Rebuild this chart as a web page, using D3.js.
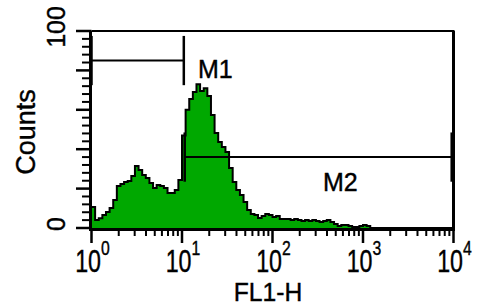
<!DOCTYPE html>
<html>
<head>
<meta charset="utf-8">
<script src="https://cdn.jsdelivr.net/npm/d3@7"></script>
<style>
  html, body { margin: 0; padding: 0; background: #fff; }
  text { font-family: "Liberation Sans", Arial, sans-serif; fill: #000; stroke: #000; stroke-width: 0.4; }
</style>
</head>
<body>
<div id="chart"></div>
<script>
// histogram: 100 bins, each 0.04 decade wide, starting at 10^0
const binWidthDecades = 0.04;
const counts = [
  10.7, 4, 5, 6.6, 8.1, 10.2, 14.2, 21.3, 22.3, 23.4,
  23.9, 26.4, 31.5, 29.4, 26.9, 25.4, 22.8, 20.3, 21.8, 21.3,
  20.3, 17.8, 17.8, 19.3, 24.4, 47, 60, 65.5, 69, 73,
  69.5, 71, 67, 57.4, 48.2, 43.7, 41.1, 38.6, 30.5, 23.4,
  19.3, 16.8, 13.2, 9.1, 7.1, 6.6, 5.1, 6.1, 7.1, 6.6,
  5.6, 6.1, 4.6, 4.6, 4.6, 4.1, 4.6, 4.1, 3.6, 4.1,
  3.6, 4.1, 3.6, 3, 3.6, 4.1, 3, 2, 1, 1.5,
  1.5, 1, 0.5, 0.5, 1, 1.5, 1, 0, 0, 0,
  0, 0, 0, 0, 0, 0, 0, 0, 0, 0,
  0, 0, 0, 0, 0, 0, 0, 0, 0, 0
];

const yMajor = [0, 20, 40, 60, 80, 100];
const yLabels = [0, 100];
const xDecades = [0, 1, 2, 3, 4];

// markers: range on FL1-H and the count level they are drawn at
const markers = [
  { name: "M1", from: 1, to: Math.pow(10, 1.02), level: 85 },
  { name: "M2", from: Math.pow(10, 1.03), to: Math.pow(10, 3.98), level: 36 }
];

const W = 477, H = 306;
const x = d3.scaleLog().domain([1, 1e4]).range([91.5, 453.5]);
const y = d3.scaleLinear().domain([0, 100]).range([228, 31]);

const svg = d3.select("#chart").append("svg")
  .attr("width", W).attr("height", H);

const bins = counts.map((c, i) => ({ x0: Math.pow(10, i * binWidthDecades), c }));
bins.push({ x0: 1e4, c: 0 });

// filled histogram
svg.append("path")
  .datum(bins)
  .attr("fill", "#00a800")
  .attr("d", d3.area()
    .x(d => x(d.x0)).y0(y(0)).y1(d => y(d.c))
    .curve(d3.curveStepAfter));

svg.append("path")
  .datum(bins)
  .attr("fill", "none")
  .attr("stroke", "#000")
  .attr("stroke-width", 2)
  .attr("d", d3.line()
    .x(d => x(d.x0)).y(d => y(d.c))
    .curve(d3.curveStepAfter));

// frame
const frame = svg.append("g").attr("stroke", "#000").attr("fill", "none");
frame.append("line").attr("x1", x(1)).attr("x2", x(1e4) + 1)
  .attr("y1", y(100)).attr("y2", y(100)).attr("stroke-width", 2);
frame.append("line").attr("x1", x(1e4)).attr("x2", x(1e4))
  .attr("y1", y(100)).attr("y2", y(0) + 2).attr("stroke-width", 3);
frame.append("line").attr("x1", x(1) - 1).attr("x2", x(1) - 1)
  .attr("y1", y(100)).attr("y2", y(0) + 3).attr("stroke-width", 3);
frame.append("line").attr("x1", x(1) - 2).attr("x2", x(1e4) + 1.5)
  .attr("y1", y(0) + 1.5).attr("y2", y(0) + 1.5).attr("stroke-width", 3);

// y ticks
const yMinor = d3.range(0, 101, 4).filter(v => v % 20 !== 0);
frame.selectAll(".ymaj").data(yMajor).join("line")
  .attr("x1", 76).attr("x2", x(1)).attr("y1", d => y(d)).attr("y2", d => y(d))
  .attr("stroke-width", 2.5);
frame.selectAll(".ymin").data(yMinor).join("line")
  .attr("x1", 82).attr("x2", x(1)).attr("y1", d => y(d)).attr("y2", d => y(d))
  .attr("stroke-width", 2);

// x ticks
const xMinor = [];
for (let d = 0; d < 4; d++) for (let k = 2; k < 10; k++) xMinor.push(k * Math.pow(10, d));
frame.selectAll(".xmaj").data(xDecades).join("line")
  .attr("x1", d => x(Math.pow(10, d))).attr("x2", d => x(Math.pow(10, d)))
  .attr("y1", y(0)).attr("y2", 243).attr("stroke-width", 2.5);
frame.selectAll(".xmin").data(xMinor).join("line")
  .attr("x1", d => x(d)).attr("x2", d => x(d))
  .attr("y1", y(0)).attr("y2", 236).attr("stroke-width", 2);

// markers
markers.forEach(m => {
  const g = svg.append("g").attr("stroke", "#000");
  g.append("line").attr("x1", x(m.from)).attr("x2", x(m.to))
    .attr("y1", y(m.level)).attr("y2", y(m.level)).attr("stroke-width", 2);
  [m.from, m.to].forEach(v => {
    g.append("line").attr("x1", x(v)).attr("x2", x(v))
      .attr("y1", y(m.level + 12.5)).attr("y2", y(m.level - 12.5))
      .attr("stroke-width", 2.5);
  });
});
svg.append("text").attr("x", 198).attr("y", 78).attr("font-size", 25).text("M1");
svg.append("text").attr("x", 323).attr("y", 191).attr("font-size", 25).text("M2");

// y labels
svg.selectAll(".yl").data(yLabels).join("text")
  .attr("transform", d => `translate(65,${y(d) - 4}) rotate(-90)`)
  .attr("text-anchor", "middle").attr("font-size", 25)
  .text(d => d);
svg.append("text")
  .attr("transform", "translate(35,132) rotate(-90)")
  .attr("text-anchor", "middle").attr("font-size", 27)
  .text("Counts");

// x labels
xDecades.forEach(d => {
  const t = svg.append("text")
    .attr("transform", `translate(${x(Math.pow(10, d)) + 1},272) scale(0.75,1)`)
    .attr("text-anchor", "middle").attr("font-size", 31);
  t.append("tspan").text("10");
  t.append("tspan").attr("font-size", 21).attr("dy", -17).text(d);
});
svg.append("text")
  .attr("transform", "translate(268,301) scale(0.95,1)")
  .attr("text-anchor", "middle").attr("font-size", 26)
  .text("FL1-H");
</script>
</body>
</html>
